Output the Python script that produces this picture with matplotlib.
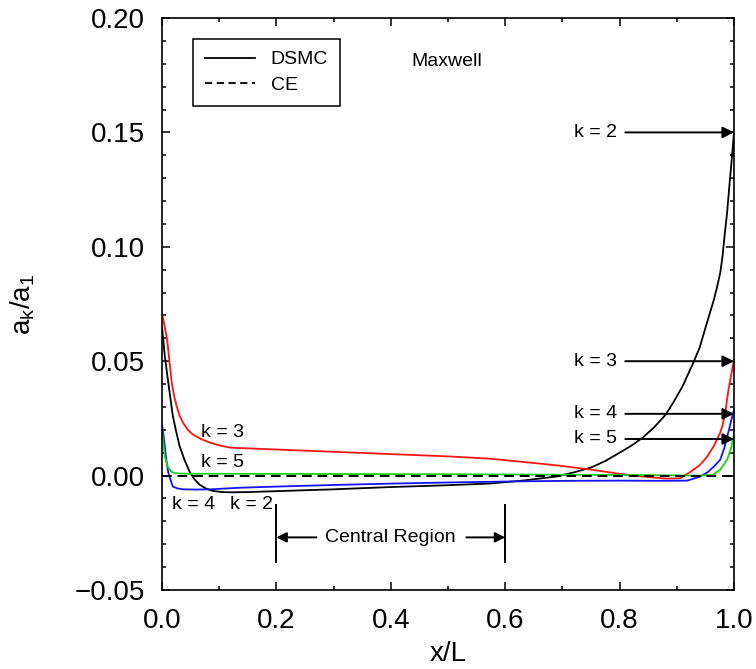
import matplotlib
matplotlib.use("Agg")
import matplotlib.pyplot as plt
from matplotlib.lines import Line2D
from matplotlib.ticker import MultipleLocator, FuncFormatter

plt.rcParams['font.family'] = ['Liberation Sans', 'DejaVu Sans']
plt.rcParams['mathtext.fontset'] = 'custom'
plt.rcParams['mathtext.rm'] = 'Liberation Sans'
plt.rcParams['mathtext.it'] = 'Liberation Sans'

# ---- data ----
x_k2 = [0, 0.005, 0.011, 0.019, 0.025, 0.031, 0.04, 0.049, 0.057, 0.066, 0.077, 0.089, 0.105, 0.12, 0.15,
        0.2, 0.3, 0.4, 0.5, 0.57, 0.63, 0.69, 0.72, 0.75, 0.775, 0.80, 0.82, 0.84, 0.86, 0.88, 0.894,
        0.91, 0.929, 0.94, 0.95, 0.958, 0.965, 0.97, 0.976, 0.98, 0.984, 0.988, 0.992, 0.996, 1.0]
y_k2 = [0.065, 0.052, 0.0406, 0.026, 0.019, 0.0127, 0.0065, 0.0013, -0.0017, -0.004, -0.0057, -0.0067,
        -0.0072, -0.0073, -0.0072, -0.0068, -0.006, -0.005, -0.0042, -0.0035, -0.0022, -0.0004, 0.0014,
        0.0035, 0.0064, 0.010, 0.013, 0.0165, 0.021, 0.0265, 0.0320, 0.039, 0.0494, 0.056, 0.0645,
        0.0712, 0.077, 0.082, 0.0887, 0.096, 0.106, 0.115, 0.127, 0.138, 0.150]

x_k3 = [0, 0.004, 0.009, 0.013, 0.017, 0.021, 0.026, 0.031, 0.037, 0.045, 0.054, 0.068, 0.084, 0.1, 0.12,
        0.2, 0.3, 0.4, 0.5, 0.573, 0.65, 0.7, 0.75, 0.80, 0.84, 0.88, 0.905, 0.923, 0.94, 0.953, 0.965,
        0.976, 0.98, 0.985, 0.99, 0.995, 1.0]
y_k3 = [0.0708, 0.0660, 0.0594, 0.050, 0.0406, 0.035, 0.030, 0.026, 0.023, 0.020, 0.018, 0.016, 0.0144,
        0.0132, 0.0122, 0.0114, 0.0104, 0.0094, 0.0084, 0.0074, 0.0055, 0.0042, 0.0026, 0.0008, -0.0004,
        -0.0013, -0.0012, 0.0015, 0.0045, 0.0083, 0.013, 0.0188, 0.022, 0.028, 0.037, 0.044, 0.0507]

x_k4 = [0, 0.003, 0.005, 0.008, 0.011, 0.015, 0.019, 0.027, 0.037, 0.06, 0.084, 0.136, 0.2, 0.3, 0.4,
        0.5, 0.6, 0.7, 0.8, 0.87, 0.918, 0.94, 0.953, 0.965, 0.976, 0.983, 0.99, 0.995, 1.0]
y_k4 = [0.0223, 0.017, 0.0127, 0.006, 0.0013, -0.002, -0.0048, -0.0056, -0.006, -0.0061, -0.006, -0.0053,
        -0.0048, -0.0041, -0.0035, -0.003, -0.0026, -0.0023, -0.0022, -0.0023, -0.0022, -0.0005, 0.0013,
        0.004, 0.007, 0.012, 0.0188, 0.024, 0.0288]

x_k5 = [0, 0.003, 0.005, 0.008, 0.011, 0.015, 0.019, 0.03, 0.05, 0.1, 0.3, 0.5, 0.7, 0.85, 0.93, 0.95,
        0.963, 0.976, 0.988, 0.995, 1.0]
y_k5 = [0.019, 0.013, 0.0083, 0.0055, 0.0035, 0.0022, 0.0013, 0.0009, 0.0008, 0.0008, 0.0007, 0.0006,
        0.0004, 0.0002, 0.0, 0.0001, 0.0004, 0.0026, 0.007, 0.012, 0.018]

x_ce = [0.0, 1.0]
y_ce = [0.0, 0.0]

arrow_labels = ["k = 2", "k = 3", "k = 4", "k = 5"]
arrow_y = [0.150, 0.050, 0.027, 0.016]

# ---- figure ----
fig = plt.figure(figsize=(7.56, 6.69), dpi=100)
ax = fig.add_axes([162/756, 1-590/669, (734-162)/756, (590-18)/669])

lw = 1.3
ax.plot(x_k2, y_k2, color='black', lw=lw)
ax.plot(x_k3, y_k3, color='#ff1414', lw=lw)
ax.plot(x_k4, y_k4, color='#1414ff', lw=lw)
ax.plot(x_k5, y_k5, color='#14d214', lw=lw)
ax.plot(x_ce, y_ce, color='black', lw=1.4, ls=(0, (5, 3)))

ax.set_xlim(0, 1)
ax.set_ylim(-0.05, 0.20)
ax.xaxis.set_major_locator(MultipleLocator(0.2))
ax.xaxis.set_minor_locator(MultipleLocator(0.1))
ax.yaxis.set_major_locator(MultipleLocator(0.05))
ax.yaxis.set_minor_locator(MultipleLocator(0.01))
ax.xaxis.set_major_formatter(FuncFormatter(lambda v, p: f'{v:.1f}'.replace('-', '\u2212')))
ax.yaxis.set_major_formatter(FuncFormatter(lambda v, p: f'{v:.2f}'.replace('-', '\u2212')))
ax.tick_params(which='both', direction='in', top=True, right=True, width=1.1)
ax.tick_params(which='major', length=6)
ax.tick_params(which='minor', length=3)
ax.tick_params(axis='y', which='major', labelsize=20, pad=12)
ax.tick_params(axis='x', which='major', labelsize=20, pad=13)
for s in ax.spines.values():
    s.set_linewidth(1.2)

ax.set_xlabel('x/L', fontsize=20, va='baseline')
ax.xaxis.set_label_coords(0.5, (590-661)/572)
ax.set_ylabel(r'$\mathregular{a_k/a_1}$', fontsize=20)
ax.yaxis.set_label_coords(-0.218, 0.5)

# legend
handles = [Line2D([], [], color='black', lw=1.3),
           Line2D([], [], color='black', lw=1.3, ls=(0, (4, 2.5)))]
leg = ax.legend(handles, ['DSMC', 'CE'], loc='upper left', bbox_to_anchor=(0.054, 0.963),
                borderaxespad=0, fancybox=False, framealpha=1, edgecolor='black', fontsize=14,
                handlelength=2.6, labelspacing=0.42, borderpad=0.6, handletextpad=0.8)
leg.get_frame().set_linewidth(1.1)

ax.text(0.498, 0.181, 'Maxwell', fontsize=14, ha='center', va='center')

# right-side arrows
for lab, yv in zip(arrow_labels, arrow_y):
    ax.annotate('', xy=(1.0, yv), xytext=(0.81, yv),
                arrowprops=dict(arrowstyle='-|>', color='black', lw=1.4, mutation_scale=17,
                                shrinkA=0, shrinkB=0))
    ax.text(0.795, yv, lab, fontsize=14, ha='right', va='center')

# left labels
ax.text(0.105, 0.019, 'k = 3', fontsize=14, ha='center', va='center')
ax.text(0.105, 0.0057, 'k = 5', fontsize=14, ha='center', va='center')
ax.text(0.055, -0.0125, 'k = 4', fontsize=14, ha='center', va='center')
ax.text(0.156, -0.0125, 'k = 2', fontsize=14, ha='center', va='center')

# central region
for xv in [0.2, 0.6]:
    ax.plot([xv, xv], [-0.0127, -0.0376], color='black', lw=1.4)
ax.annotate('', xy=(0.2, -0.027), xytext=(0.27, -0.027),
            arrowprops=dict(arrowstyle='-|>', color='black', lw=1.4, mutation_scale=15,
                            shrinkA=0, shrinkB=0))
ax.annotate('', xy=(0.6, -0.027), xytext=(0.532, -0.027),
            arrowprops=dict(arrowstyle='-|>', color='black', lw=1.4, mutation_scale=15,
                            shrinkA=0, shrinkB=0))
ax.text(0.4, -0.027, 'Central Region', fontsize=14, ha='center', va='center')

fig.savefig('out.png', dpi=100)
